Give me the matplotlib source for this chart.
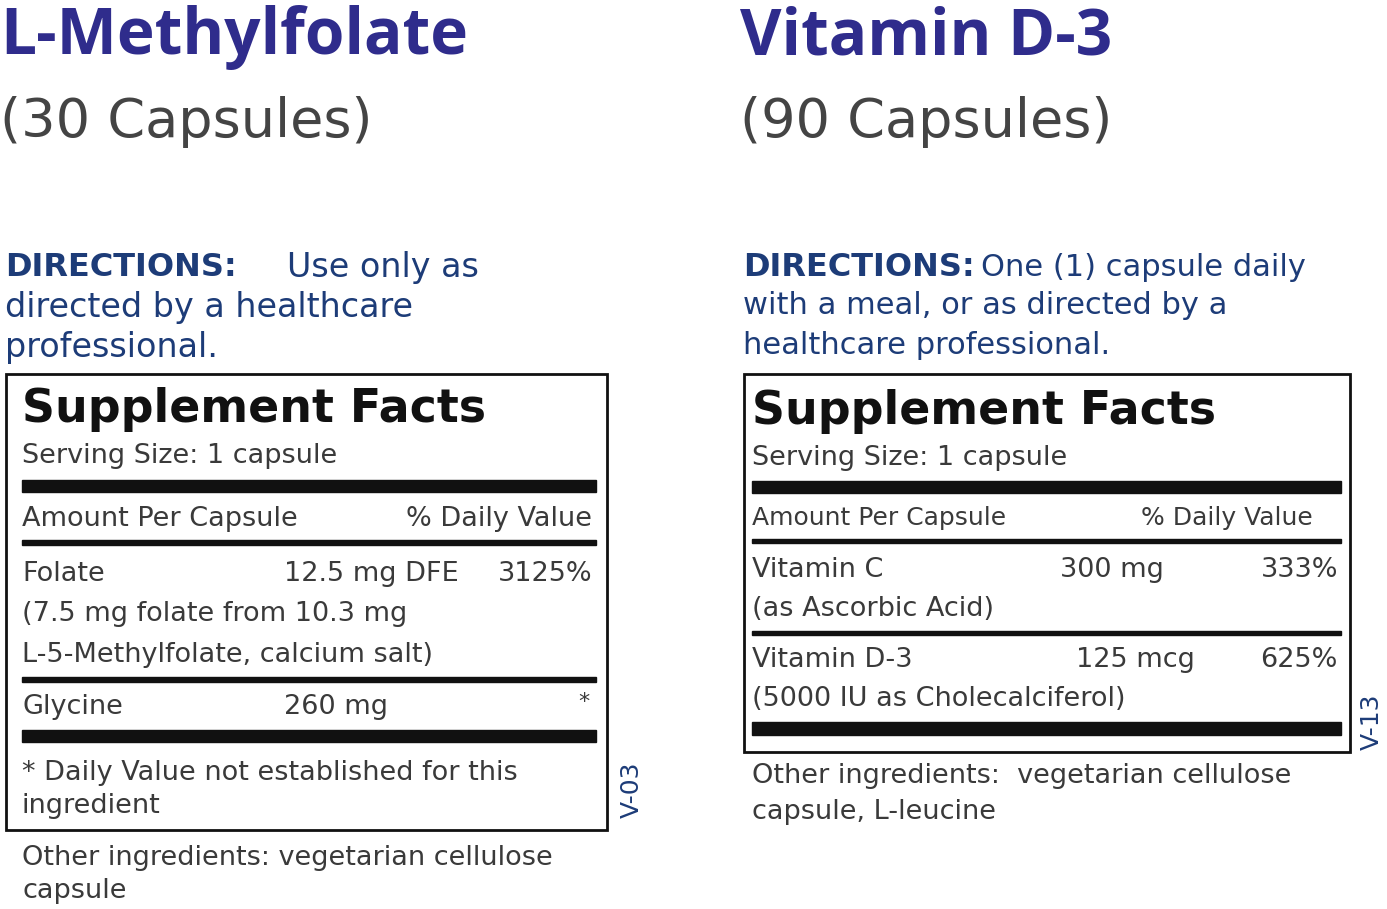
import matplotlib
matplotlib.use("Agg")
import matplotlib.pyplot as plt
from matplotlib.patches import Rectangle

FONT = "DejaVu Sans"
TFONT = "Open Sans"
TITLE_C = "#2f2c8c"
DIR_C = "#1d3c78"
TXT_C = "#3a3a3a"

titles = ["L-Methylfolate", "Vitamin D-3"]
counts = ["(30 Capsules)", "(90 Capsules)"]
dir_rest = [["Use only as", "directed by a healthcare", "professional."],
            ["One (1) capsule daily", "with a meal, or as directed by a", "healthcare professional."]]
serving = "Serving Size: 1 capsule"
rows_left = [("Folate", "12.5 mg DFE", "3125%"), ("Glycine", "260 mg", "*")]
rows_right = [("Vitamin C", "300 mg", "333%"), ("Vitamin D-3", "125 mcg", "625%")]
notes_left = ["(7.5 mg folate from 10.3 mg", "L-5-Methylfolate, calcium salt)"]
notes_right = ["(as Ascorbic Acid)", "(5000 IU as Cholecalciferol)"]
footnote = ["* Daily Value not established for this", "ingredient"]
other = [["Other ingredients: vegetarian cellulose", "capsule"],
         ["Other ingredients:  vegetarian cellulose", "capsule, L-leucine"]]
codes = ["V-03", "V-13"]

fig = plt.figure(figsize=(13.87, 9.09), dpi=100)
ax = fig.add_axes([0, 0, 1, 1])
ax.set_xlim(0, 1387); ax.set_ylim(909, 0); ax.axis("off")

def t(x, y, s, size, color=TXT_C, weight="normal", ha="left", family=FONT, **kw):
    ax.text(x, y, s, fontsize=size, color=color, fontweight=weight, ha=ha, va="center", family=family, **kw)

def bar(x0, x1, y0, h):
    ax.add_patch(Rectangle((x0, y0), x1 - x0, h, color="#111"))

B = 19.5
# Left panel
t(0, 38, titles[0], 46, TITLE_C, "bold", family=TFONT)
t(0, 122, counts[0], 39, "#444")
t(5, 268, "DIRECTIONS:", 23, DIR_C, "bold")
t(287, 268, dir_rest[0][0], 24, DIR_C)
t(5, 308, dir_rest[0][1], 24, DIR_C)
t(5, 347, dir_rest[0][2], 24, DIR_C)
ax.add_patch(Rectangle((6, 374), 601, 456, fill=False, lw=2, ec="#111"))
t(22, 409, "Supplement Facts", 33, "#111", "bold")
t(22, 456, serving, B)
bar(22, 596, 480, 12)
t(22, 519, "Amount Per Capsule", B)
t(592, 519, "% Daily Value", B, ha="right")
bar(22, 596, 540, 5)
t(22, 574, rows_left[0][0], B)
t(284, 574, rows_left[0][1], B)
t(592, 574, rows_left[0][2], B, ha="right")
t(22, 614, notes_left[0], B)
t(22, 655, notes_left[1], B)
bar(22, 596, 677, 5)
t(22, 707, rows_left[1][0], B)
t(284, 707, rows_left[1][1], B)
t(590, 702, rows_left[1][2], 16, ha="right")
bar(22, 596, 730, 12)
t(22, 773, footnote[0], B)
t(22, 806, footnote[1], B)
t(22, 858, other[0][0], B)
t(22, 891, other[0][1], B)
t(632, 790, codes[0], 18, DIR_C, rotation=90, ha="center")

# Right panel
X = 740
t(X, 38, titles[1], 46, TITLE_C, "bold", family=TFONT)
t(X, 122, counts[1], 39, "#444")
t(743, 267, "DIRECTIONS:", 23, DIR_C, "bold")
t(981, 267, dir_rest[1][0], 22, DIR_C)
t(743, 306, dir_rest[1][1], 22, DIR_C)
t(743, 346, dir_rest[1][2], 22, DIR_C)
ax.add_patch(Rectangle((744, 374), 606, 378, fill=False, lw=2, ec="#111"))
t(752, 412, "Supplement Facts", 33, "#111", "bold")
t(752, 458, serving, B)
bar(752, 1341, 481, 12)
t(752, 518, "Amount Per Capsule", 18)
t(1313, 518, "% Daily Value", 18, ha="right")
bar(752, 1341, 539, 4)
t(752, 570, rows_right[0][0], B)
t(1060, 570, rows_right[0][1], B)
t(1338, 570, rows_right[0][2], B, ha="right")
t(752, 609, notes_right[0], B)
bar(752, 1341, 631, 4)
t(752, 660, rows_right[1][0], B)
t(1076, 660, rows_right[1][1], B)
t(1338, 660, rows_right[1][2], B, ha="right")
t(752, 699, notes_right[1], B)
bar(752, 1341, 722, 13)
t(752, 776, other[1][0], B)
t(752, 812, other[1][1], B)
t(1372, 722, codes[1], 18, DIR_C, rotation=90, ha="center")

fig.savefig("out.png", dpi=100)
